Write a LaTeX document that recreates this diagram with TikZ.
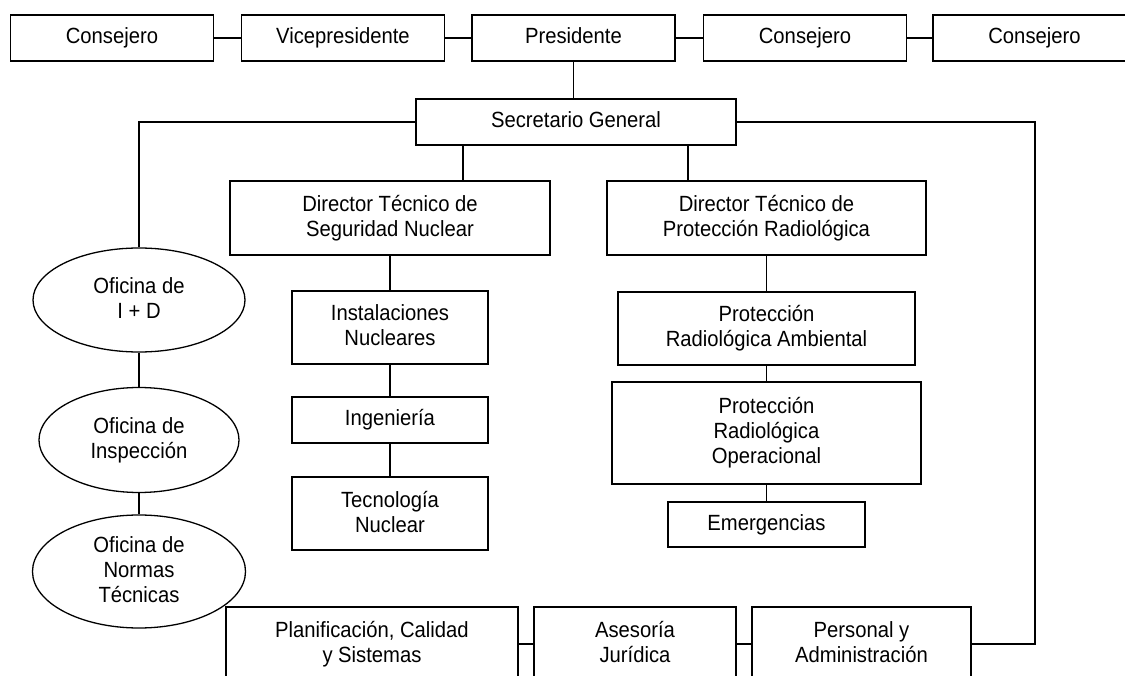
\documentclass[tikz,border=0pt]{standalone}
\usepackage{fontspec}
\setmainfont{Liberation Sans}[FakeStretch=0.92]
\usetikzlibrary{shapes.geometric}
\newcommand\mystrut{\rule[-4pt]{0pt}{20pt}}
\begin{document}
\begin{tikzpicture}[x=1pt,y=-1pt,line width=1.3pt,
  lbl/.style={font=\fontsize{22}{25}\selectfont, align=center, inner sep=0pt,
    execute at begin node=\mystrut, execute at end node=\mystrut},
  box/.style={lbl, draw, rectangle},
  oval/.style={lbl, draw, ellipse}]
\useasboundingbox (0,0) rectangle (1125,676);
\clip (0,0) rectangle (1125,676);
% top row
\node[box, minimum width=203pt, minimum height=46pt] (c1) at (112,38) {Consejero};
\node[box, minimum width=203pt, minimum height=46pt] (vp) at (343,38) {Vicepresidente};
\node[box, minimum width=203pt, minimum height=46pt] (pres) at (573.5,38) {Presidente};
\node[box, minimum width=203pt, minimum height=46pt] (c2) at (805,38) {Consejero};
\node[box, minimum width=203pt, minimum height=46pt] (c3) at (1034.5,38) {Consejero};
% secretario
\node[box, minimum width=320pt, minimum height=46pt] (sg) at (576,122) {Secretario General};
% directors
\node[box, minimum width=320pt, minimum height=74pt] (dsn) at (390,218) {Director Técnico de\\Seguridad Nuclear};
\node[box, minimum width=319pt, minimum height=74pt] (dpr) at (766.5,218) {Director Técnico de\\Protección Radiológica};
% left column
\node[box, minimum width=196pt, minimum height=73pt] (inst) at (390,327.5) {Instalaciones\\Nucleares};
\node[box, minimum width=196pt, minimum height=46pt] (ing) at (390,420) {Ingeniería};
\node[box, minimum width=196pt, minimum height=73pt] (tec) at (390,513.5) {Tecnología\\Nuclear};
% right column
\node[box, minimum width=297pt, minimum height=73pt] (pra) at (766.5,328.5) {Protección\\Radiológica Ambiental};
\node[box, minimum width=309pt, minimum height=102pt] (pro) at (766.5,433) {Protección\\Radiológica\\Operacional};
\node[box, minimum width=197pt, minimum height=45pt] (emg) at (766.5,524.5) {Emergencias};
% ovals
\node[oval, minimum width=212pt, minimum height=104pt] (e1) at (139,300) {Oficina de\\I + D};
\node[oval, minimum width=200pt, minimum height=105pt] (e2) at (139,440) {Oficina de\\Inspección};
\node[oval, minimum width=213pt, minimum height=113pt] (e3) at (139,571.5) {Oficina de\\Normas\\Técnicas};
% bottom row
\node[box, minimum width=292pt, minimum height=74pt] (plan) at (372,644) {Planificación, Calidad\\y Sistemas};
\node[box, minimum width=202pt, minimum height=74pt] (ases) at (635,644) {Asesoría\\Jurídica};
\node[box, minimum width=219pt, minimum height=74pt] (pers) at (861.5,644) {Personal y\\Administración};
% helper coordinates
\coordinate (s1) at (463,0);
\coordinate (s2) at (688,0);
\coordinate (rt) at (1035,644);
% connectors
\draw (c1.east) -- (vp.west);
\draw (vp.east) -- (pres.west);
\draw (pres.east) -- (c2.west);
\draw (c2.east) -- (c3.west);
\draw (pres.south) -- (pres.south |- sg.north);
\draw (sg.west) -| (e1.north);
\draw (sg.east) -| (rt) -- (pers.east);
\draw (s1 |- sg.south) -- (s1 |- dsn.north);
\draw (s2 |- sg.south) -- (s2 |- dpr.north);
\draw (dsn.south) -- (inst.north);
\draw (inst.south) -- (ing.north);
\draw (ing.south) -- (tec.north);
\draw (dpr.south) -- (pra.north);
\draw (pra.south) -- (pro.north);
\draw (pro.south) -- (emg.north);
\draw (e1.south) -- (e2.north);
\draw (e2.south) -- (e3.north);
\draw (plan.east) -- (ases.west);
\draw (ases.east) -- (pers.west);
\end{tikzpicture}
\end{document}
